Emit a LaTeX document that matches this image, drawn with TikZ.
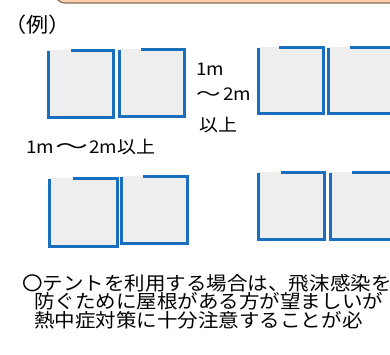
\documentclass[tikz,border=0pt]{standalone}
\usepackage{fontspec}
\usepackage{graphicx}
\setmainfont{Noto Sans CJK JP}
\definecolor{tentblue}{RGB}{26,110,190}
\definecolor{tentgray}{RGB}{238,238,238}
\definecolor{peach}{RGB}{250,205,170}
\definecolor{peachborder}{RGB}{140,110,90}
\newcommand{\tentbox}[5]{%
  \fill[tentgray] (#1,#3) rectangle (#2,#4);
  \draw[tentline] (#5,#3) -- (#2,#3) -- (#2,#4) -- (#1,#4) -- (#1,#3+1);
}
\newcommand{\wave}{\hspace{2pt}\scalebox{1.3}[1]{〜}\hspace{2pt}}
\newcommand{\widewave}{\hspace{1pt}\scalebox{1.75}[1.1]{〜}\hspace{1pt}}
\tikzset{
  tentline/.style={draw=tentblue, line width=3pt, line join=miter},
  txt/.style={anchor=base west, inner sep=0pt, xscale=1.08, text height=13pt, text depth=2pt,
    font=\fontsize{17.5}{17.5}\selectfont},
  bigtxt/.style={anchor=base west, inner sep=0pt, xscale=1.08, text height=14pt, text depth=2pt,
    font=\fontsize{19}{19}\selectfont},
}
\begin{document}
\begin{tikzpicture}[x=1pt,y=-1pt]
\useasboundingbox (0,0) rectangle (390,354);
\clip (0,0) rectangle (390,354);
\draw[fill=peach, draw=peachborder, line width=1.2pt, rounded corners=10pt] (55,-30) rectangle (420,3);
\node[bigtxt, font=\fontsize{20.5}{20.5}\selectfont] (rei) at (4,32) {（例）};
\tentbox{48}{113}{50}{117}{71}
\tentbox{119}{184}{49}{116}{141}
\tentbox{258}{323}{47}{113}{279}
\tentbox{328}{393}{47}{113}{350}
\tentbox{49}{117}{178}{246}{73}
\tentbox{121}{187}{176}{243}{143}
\tentbox{258}{324}{172}{239}{281}
\tentbox{330}{396}{172}{239}{352}
\node[txt] (d1) at (196,75) {1m};
\node[txt] (d2) at (194,100) {\wave 2m};
\node[txt] (d3) at (199,131) {以上};
\node[txt] (d4) at (26,153) {1m\widewave 2m以上};
\node[bigtxt] (l1) at (22,290) {〇テントを利用する場合は、飛沫感染を};
\node[bigtxt] (l2) at (34,308) {防ぐために屋根がある方が望ましいが};
\node[bigtxt] (l3) at (34,327) {熱中症対策に十分注意することが必};
\end{tikzpicture}
\end{document}
